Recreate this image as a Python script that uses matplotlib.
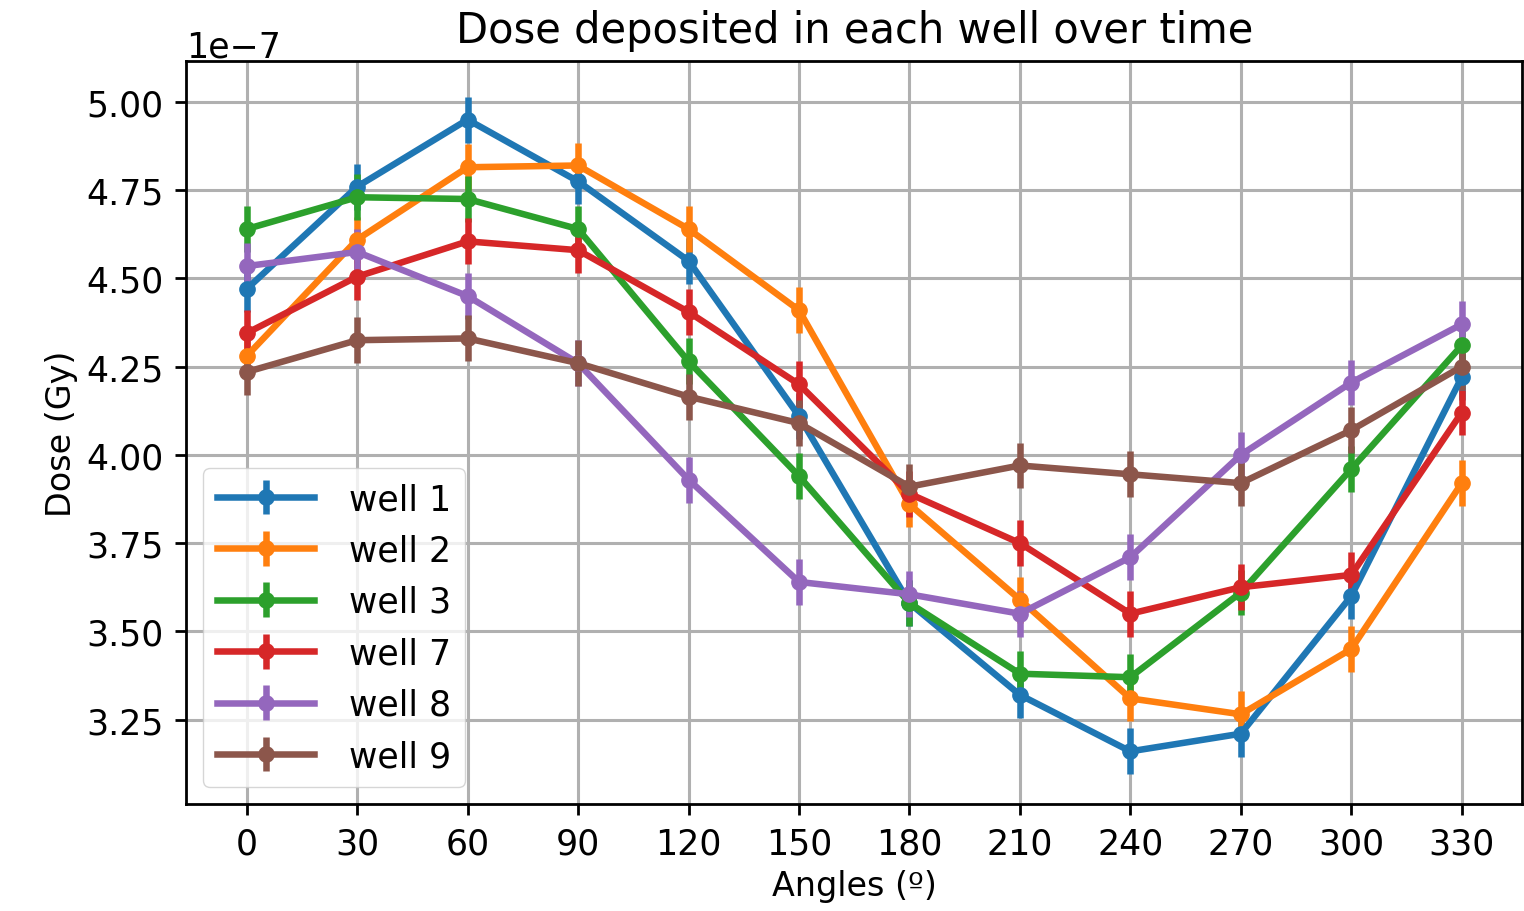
import matplotlib
matplotlib.use("Agg")
import matplotlib.pyplot as plt

angles = [0, 30, 60, 90, 120, 150, 180, 210, 240, 270, 300, 330]

# dose per well, in units of 1e-7 Gy
well_1 = [4.47, 4.76, 4.95, 4.775, 4.55, 4.11, 3.58, 3.32, 3.16, 3.21, 3.60, 4.22]
well_2 = [4.28, 4.61, 4.815, 4.82, 4.64, 4.41, 3.86, 3.59, 3.31, 3.265, 3.45, 3.92]
well_3 = [4.64, 4.73, 4.725, 4.64, 4.265, 3.94, 3.58, 3.38, 3.37, 3.61, 3.96, 4.31]
well_7 = [4.345, 4.505, 4.605, 4.58, 4.405, 4.20, 3.89, 3.75, 3.55, 3.625, 3.66, 4.12]
well_8 = [4.535, 4.575, 4.45, 4.26, 3.93, 3.64, 3.605, 3.55, 3.71, 4.00, 4.205, 4.37]
well_9 = [4.235, 4.325, 4.33, 4.26, 4.165, 4.09, 3.91, 3.97, 3.945, 3.92, 4.07, 4.25]

labels = ["well 1", "well 2", "well 3", "well 7", "well 8", "well 9"]
errors = [0.065, 0.065, 0.065, 0.065, 0.065, 0.065]

fig = plt.figure(figsize=(15.24, 9.12), dpi=100)
ax = fig.add_axes([0.122, 0.117, 0.877, 0.815])

for dose, lab, err in zip([well_1, well_2, well_3, well_7, well_8, well_9], labels, errors):
    ax.errorbar(angles, [d * 1e-7 for d in dose], yerr=err * 1e-7, label=lab,
                marker="o", markersize=11, linewidth=4.7, elinewidth=4.7)

ax.set_xticks(angles)
ax.set_xlim(-16.5, 346.5)
ax.set_ylim(3.01e-7, 5.116e-7)
ax.grid(True, color="#b0b0b0", linewidth=2.2)
ax.tick_params(labelsize=25, length=8, width=2, pad=8)
for sp in ax.spines.values():
    sp.set_linewidth(2)
ax.yaxis.get_offset_text().set_fontsize(25)

ax.set_title("Dose deposited in each well over time", fontsize=30, pad=14)
ax.set_xlabel("Angles (º)", fontsize=24, labelpad=6)
ax.set_ylabel("Dose (Gy)", fontsize=24, labelpad=6)
ax.legend(loc="lower left", fontsize=25, handlelength=2.8, handletextpad=1.0)

fig.savefig("out.png")
